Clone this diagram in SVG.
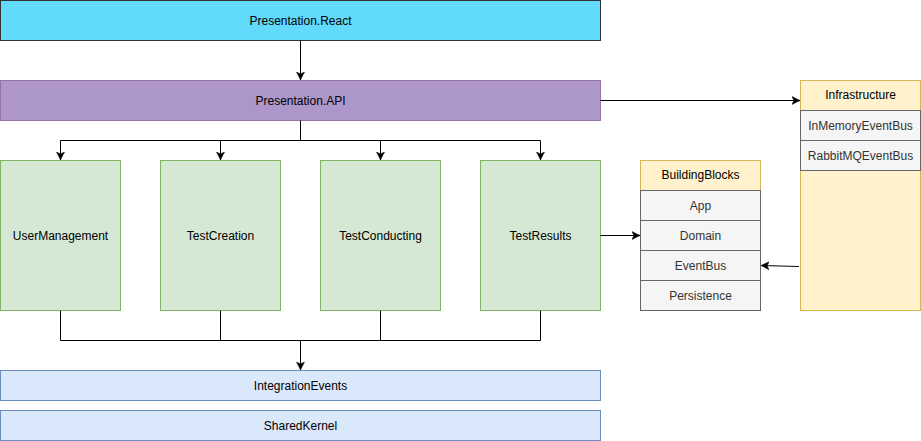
<svg xmlns="http://www.w3.org/2000/svg" width="921" height="441" viewBox="0 0 921 441">
<style>
text{font-family:"Liberation Sans",Arial,Helvetica,sans-serif;font-size:12px;fill:#000;text-anchor:middle;dominant-baseline:central}
text.rt{fill:#333333}
.green{fill:#d5e8d4;stroke:#82b366}
.blue{fill:#dae8fc;stroke:#6c8ebf}
.yellow{fill:#fff2cc;stroke:#d6b656}
.row{fill:#f5f5f5;stroke:#666666}
.edge{fill:none;stroke:#000;stroke-width:1}
</style>
<defs>
<marker id="arr" viewBox="0 0 10 10" refX="9" refY="5" markerWidth="9" markerHeight="9" markerUnits="userSpaceOnUse" orient="auto">
<path d="M0,0.5 L9,5 L0,9.5 L2.2,5 Z" fill="#000" stroke="#000" stroke-width="0.5"/>
</marker>
</defs>
<g id="react"><rect x="0.5" y="0.5" width="600" height="40" fill="#61dafb" stroke="#333333"/><text x="300.5" y="20.5">Presentation.React</text></g>
<g id="api"><rect x="0.5" y="80.5" width="600" height="40" fill="#ad96c9" stroke="#9673a6"/><text x="300.5" y="100.5">Presentation.API</text></g>
<g id="usermanagement"><rect class="green" x="0.5" y="160.5" width="120" height="150"/><text x="60.5" y="235.5">UserManagement</text></g>
<g id="testcreation"><rect class="green" x="160.5" y="160.5" width="120" height="150"/><text x="220.5" y="235.5">TestCreation</text></g>
<g id="testconducting"><rect class="green" x="320.5" y="160.5" width="120" height="150"/><text x="380.5" y="235.5">TestConducting</text></g>
<g id="testresults"><rect class="green" x="480.5" y="160.5" width="120" height="150"/><text x="540.5" y="235.5">TestResults</text></g>
<g id="integrationevents"><rect class="blue" x="0.5" y="370.5" width="600" height="30"/><text x="300.5" y="385.5">IntegrationEvents</text></g>
<g id="sharedkernel"><rect class="blue" x="0.5" y="410.5" width="600" height="30"/><text x="300.5" y="425.5">SharedKernel</text></g>
<g id="buildingblocks">
<rect class="yellow" x="640.5" y="160.5" width="120" height="150"/>
<text x="700.5" y="174.5">BuildingBlocks</text>
<rect class="row" x="640.5" y="190.5" width="120" height="30"/><text class="rt" x="700.5" y="205.5">App</text>
<rect class="row" x="640.5" y="220.5" width="120" height="30"/><text class="rt" x="700.5" y="235.5">Domain</text>
<rect class="row" x="640.5" y="250.5" width="120" height="30"/><text class="rt" x="700.5" y="265.5">EventBus</text>
<rect class="row" x="640.5" y="280.5" width="120" height="30"/><text class="rt" x="700.5" y="295.5">Persistence</text>
</g>
<g id="infrastructure">
<rect class="yellow" x="800.5" y="80.5" width="120" height="230"/>
<text x="860.5" y="94.5">Infrastructure</text>
<rect class="row" x="800.5" y="110.5" width="120" height="30"/><text class="rt" x="860.5" y="125.5">InMemoryEventBus</text>
<rect class="row" x="800.5" y="140.5" width="120" height="30"/><text class="rt" x="860.5" y="155.5">RabbitMQEventBus</text>
</g>
<g id="connectors">
<path class="edge" d="M300.5,40.5 V80" marker-end="url(#arr)"/>
<path class="edge" d="M300.5,120.5 V140.5 H60.5 V160" marker-end="url(#arr)"/>
<path class="edge" d="M300.5,140.5 H220.5 V160" marker-end="url(#arr)"/>
<path class="edge" d="M300.5,140.5 H380.5 V160" marker-end="url(#arr)"/>
<path class="edge" d="M300.5,140.5 H540.5 V160" marker-end="url(#arr)"/>
<path class="edge" d="M60.5,310.5 V340.5 H300.5 V370" marker-end="url(#arr)"/>
<path class="edge" d="M220.5,310.5 V340.5"/>
<path class="edge" d="M380.5,310.5 V340.5 H300.5"/>
<path class="edge" d="M540.5,310.5 V340.5 H380.5"/>
<path class="edge" d="M600.5,100.5 H800" marker-end="url(#arr)"/>
<path class="edge" d="M600.5,235.5 H640" marker-end="url(#arr)"/>
<path class="edge" d="M799,266.5 L761,265.5" marker-end="url(#arr)"/>
</g>
</svg>
